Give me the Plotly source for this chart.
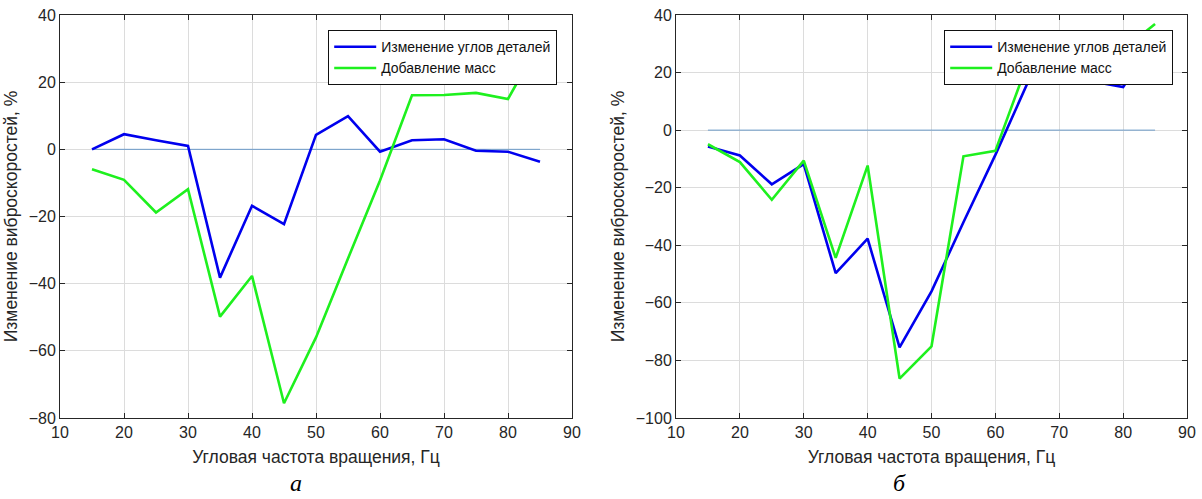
import plotly.graph_objects as go

# ---- data ----
freq = [15, 20, 25, 30, 35, 40, 45, 50, 55, 60, 65, 70, 75, 80, 85]

# panel "а"
a_angles = [0.0, 4.5, 2.7, 1.0, -38.2, -16.8, -22.3, 4.3, 9.9, -0.7, 2.7, 3.0, -0.4, -0.7, -3.7]
a_masses = [-5.9, -9.1, -18.8, -11.9, -49.8, -37.7, -75.6, -56.0, -32.5, -9.3, 16.1, 16.2, 16.8, 15.0, 32.0]

# panel "б"
b_angles = [-5.7, -8.8, -18.8, -11.8, -49.7, -37.7, -75.5, -56.0, -32.0, -8.6, 16.2, 16.3, 17.0, 15.0, 32.0]
b_masses = [-4.9, -11.1, -24.2, -10.6, -44.4, -12.3, -86.3, -75.1, -9.1, -7.2, 23.0, 25.0, 27.0, 28.0, 36.9]

zero_x = [15, 85]
zero_y = [0, 0]

name_angles = "Изменение углов деталей"
name_masses = "Добавление масс"
x_title = "Угловая частота вращения, Гц"
y_title = "Изменение виброскоростей, %"
x_ticks = [10, 20, 30, 40, 50, 60, 70, 80, 90]
a_yticks = [-80, -60, -40, -20, 0, 20, 40]
b_yticks = [-100, -80, -60, -40, -20, 0, 20, 40]
captions = ["а", "б"]

# ---- style ----
W, H = 1202, 499
BLUE = "#0000EE"
GREEN = "#1EF01E"
ZERO = "#6C9BC9"
AX = "#262626"
GRID = "#DCDCDC"
FONT = "Liberation Sans, Arial, sans-serif"

fig = go.Figure()

def add_panel(xa, ya, angles, masses, legend):
    fig.add_trace(go.Scatter(x=zero_x, y=zero_y, mode="lines", xaxis=xa, yaxis=ya,
                             line=dict(color=ZERO, width=1), showlegend=False, hoverinfo="skip"))
    fig.add_trace(go.Scatter(x=freq, y=angles, mode="lines", xaxis=xa, yaxis=ya, name=name_angles,
                             line=dict(color=BLUE, width=2.6), legend=legend))
    fig.add_trace(go.Scatter(x=freq, y=masses, mode="lines", xaxis=xa, yaxis=ya, name=name_masses,
                             line=dict(color=GREEN, width=2.6), legend=legend))

add_panel("x", "y", a_angles, a_masses, "legend")
add_panel("x2", "y2", b_angles, b_masses, "legend2")

y0 = 1 - 418 / H
y1 = 1 - 15 / H

def xaxis(dom, anchor):
    return dict(domain=dom, anchor=anchor, range=[10, 90], tickvals=x_ticks, automargin=False,
                showgrid=True, gridcolor=GRID, gridwidth=1, zeroline=False,
                showline=True, linecolor=AX, linewidth=1, mirror="ticks",
                ticks="inside", ticklen=5, tickcolor=AX,
                tickfont=dict(family=FONT, size=16, color=AX),
                title=dict(text=x_title, font=dict(family=FONT, size=17.5, color=AX), standoff=10))

def yaxis(rng, ticks, anchor):
    return dict(domain=[y0, y1], anchor=anchor, range=rng, tickvals=ticks, automargin=False,
                showgrid=True, gridcolor=GRID, gridwidth=1, zeroline=False,
                showline=True, linecolor=AX, linewidth=1, mirror="ticks",
                ticks="inside", ticklen=5, tickcolor=AX,
                tickfont=dict(family=FONT, size=16, color=AX),
                title=dict(text=y_title, font=dict(family=FONT, size=17.5, color=AX), standoff=6))

legend_style = dict(bgcolor="white", bordercolor="#111111", borderwidth=1.2,
                    font=dict(family=FONT, size=14, color="#111111"),
                    xanchor="right", yanchor="top", tracegroupgap=0, itemwidth=42)

cap_font = dict(family="Liberation Serif, Times New Roman, serif", size=24, color="black", style="italic")

fig.update_layout(
    width=W, height=H,
    margin=dict(l=0, r=0, t=0, b=0, autoexpand=False),
    paper_bgcolor="white", plot_bgcolor="white",
    xaxis=xaxis([60 / W, 572 / W], "y"),
    yaxis=yaxis([-80, 40], a_yticks, "x"),
    xaxis2=xaxis([676 / W, 1187 / W], "y2"),
    yaxis2=yaxis([-100, 40], b_yticks, "x2"),
    legend=dict(x=557 / W, y=1 - 30 / H, **legend_style),
    legend2=dict(x=1173 / W, y=1 - 30 / H, **legend_style),
    annotations=[
        dict(text=captions[0], x=288 / W, y=1 - 498 / H, xref="paper", yref="paper",
             yanchor="bottom", showarrow=False, font=cap_font),
        dict(text=captions[1], x=908 / W, y=1 - 498 / H, xref="paper", yref="paper",
             yanchor="bottom", showarrow=False, font=cap_font),
    ],
)

fig.write_html("out.html", config={"displayModeBar": False},
               post_script="document.body.style.margin='0';document.body.style.overflow='hidden';")
